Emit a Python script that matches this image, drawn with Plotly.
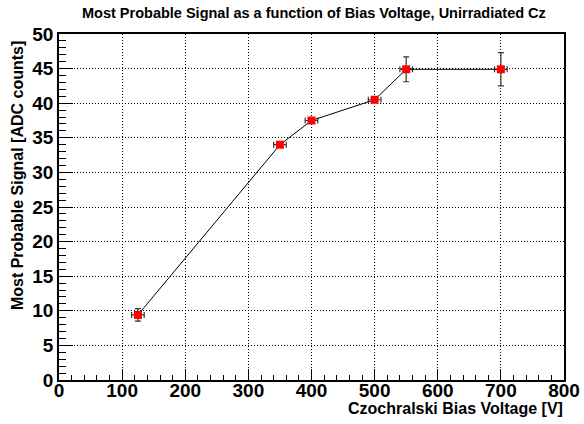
import plotly.graph_objects as go

# Data
bias_voltage = [125, 350, 400, 500, 550, 700]
signal_mpv = [9.4, 34.0, 37.5, 40.5, 44.9, 44.9]
signal_err = [0.9, 0.3, 0.3, 0.3, 1.8, 2.4]
voltage_err = [10, 10, 10, 10, 10, 10]

title_text = "Most Probable Signal as a function of Bias Voltage, Unirradiated Cz"
x_title = "Czochralski Bias Voltage [V]"
y_title = "Most Probable Signal [ADC counts]"

W, H = 584, 424
L, R, T, B = 58.5, 19.5, 34, 44
pw, ph = W - L - R, H - T - B

font_family = "Liberation Sans, Arial, sans-serif"

fig = go.Figure()
fig.add_trace(go.Scatter(
    x=bias_voltage, y=signal_mpv,
    mode="lines+markers",
    line=dict(color="black", width=1),
    marker=dict(symbol="square", size=8, color="#ff0000", line=dict(width=0)),
    error_y=dict(type="data", array=signal_err, visible=True,
                 color="#333333", thickness=1.2, width=3),
    error_x=dict(type="data", array=voltage_err, visible=True,
                 color="#333333", thickness=1.2, width=3),
    showlegend=False,
))

axis_common = dict(
    showline=True, linecolor="black", linewidth=1.5, mirror=True,
    ticks="inside", tickcolor="black", tickwidth=1,
    showgrid=True, gridcolor="black", gridwidth=1, griddash="1px,2px",
    zeroline=False,
    tickfont=dict(family=font_family, size=19, color="black", weight="bold"),
)

fig.update_layout(
    width=W, height=H,
    margin=dict(l=L, r=R, t=T, b=B, autoexpand=False),
    paper_bgcolor="white", plot_bgcolor="white",
    font=dict(family=font_family, color="black"),
    xaxis=dict(range=[0, 800], dtick=100, tick0=0, ticklen=11,
               ticklabelstandoff=-8,
               minor=dict(dtick=20, ticklen=5, ticks="inside", tickcolor="black",
                          showgrid=False),
               **axis_common),
    yaxis=dict(range=[0, 50], dtick=5, tick0=0, ticklen=14,
               minor=dict(dtick=1, ticklen=7, ticks="inside", tickcolor="black",
                          showgrid=False),
               **axis_common),
    annotations=[
        dict(text=f"<b>{title_text}</b>", xref="paper", yref="paper",
             x=(314.5 - L) / pw, y=(H - B - 13) / ph,
             xanchor="center", yanchor="middle", showarrow=False,
             font=dict(family=font_family, size=14.5, color="black")),
        dict(text=f"<b>{x_title}</b>", xref="paper", yref="paper",
             x=(566 - L) / pw, y=-(408 - (H - B)) / ph,
             xanchor="right", yanchor="middle", showarrow=False,
             font=dict(family=font_family, size=16, color="black")),
        dict(text=f"<b>{y_title}</b>", xref="paper", yref="paper",
             x=-(L - 17) / pw, y=((H - B) - 39) / ph,
             xanchor="center", yanchor="top", textangle=-90, showarrow=False,
             font=dict(family=font_family, size=16, color="black")),
    ],
)

fig.write_html("out.html")
